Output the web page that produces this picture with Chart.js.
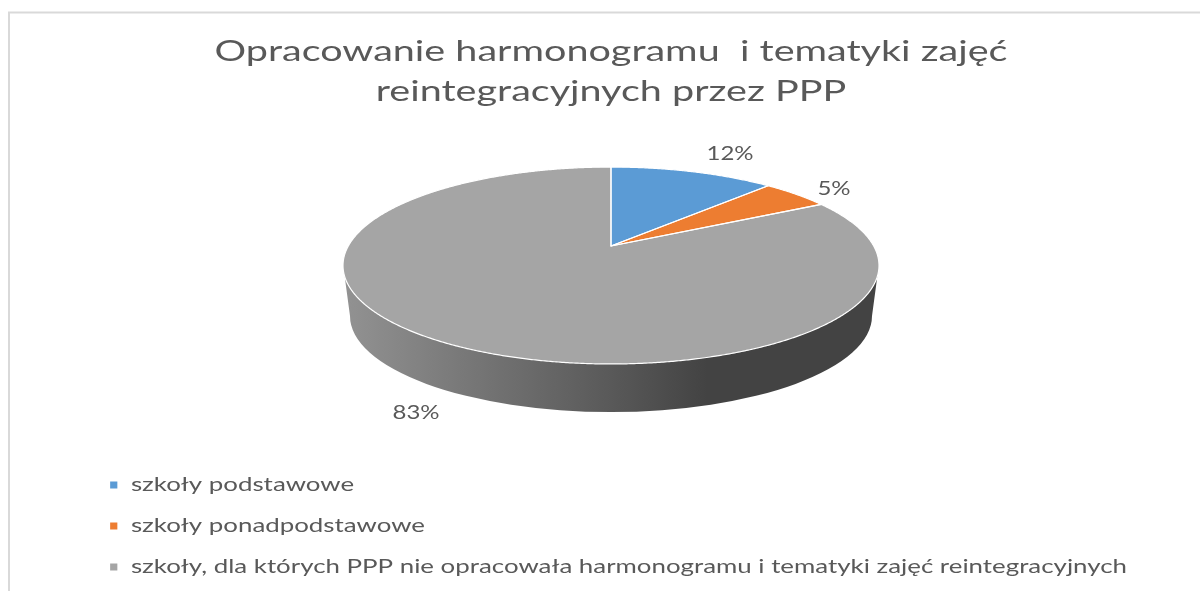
<!DOCTYPE html>
<html lang="pl">
<head>
<meta charset="utf-8">
<title>Opracowanie harmonogramu i tematyki zajęć</title>
<script src="https://cdn.jsdelivr.net/npm/chart.js@4"></script>
<style>
html,body{margin:0;padding:0;background:#fff;overflow:hidden}
canvas{display:block;filter:blur(0.45px)}
</style>
</head>
<body>
<canvas id="c" width="1200" height="591"></canvas>
<script>
const titleLines = ['Opracowanie harmonogramu  i tematyki zajęć', 'reintegracyjnych przez PPP'];
const categories = ['szkoły podstawowe', 'szkoły ponadpodstawowe', 'szkoły, dla których PPP nie opracowała harmonogramu i tematyki zajęć reintegracyjnych'];
const values = [12, 5, 83];
const sliceColors = ['#5b9bd5', '#ed7d31', '#a5a5a5'];
const TEXT = '#595959';
const FONT = 'Lato';

// perspective of the pie's top face (unit circle -> ellipse seen in perspective)
const P = {cx: 611, ay: 246, a: 262.7, b: 94.6, k: -0.198};
function project(t){
  const u = Math.cos(t), v = Math.sin(t), d = 1 + P.k * v;
  return [P.cx + P.a * u / d, P.ay + P.b * v / d];
}
function tracePie(ctx, start, end, withApex){
  ctx.beginPath();
  if (withApex) ctx.moveTo(P.cx, P.ay);
  const n = Math.max(2, Math.ceil((end - start) / 0.006));
  for (let i = 0; i <= n; i++){
    const p = project(start + (end - start) * i / n);
    ctx.lineTo(p[0], p[1]);
  }
  ctx.closePath();
}
function drawSide(ctx){
  const low = {cy: 316, rx: 261, ry: 96};
  const g = ctx.createLinearGradient(345, 0, 877, 0);
  g.addColorStop(0, '#929292');
  g.addColorStop(0.25, '#757575');
  g.addColorStop(0.5, '#595959');
  g.addColorStop(0.68, '#434343');
  g.addColorStop(1, '#434343');
  ctx.fillStyle = g;
  ctx.beginPath();
  ctx.moveTo(879, 264);
  ctx.lineTo(P.cx + low.rx, low.cy);
  ctx.ellipse(P.cx, low.cy, low.rx, low.ry, 0, 0, Math.PI);
  ctx.lineTo(343, 264);
  ctx.closePath();
  ctx.fill();
}
function stretched(box, ctx, setup){
  const draw = box.draw.bind(box);
  box.draw = function(area){
    ctx.save();
    setup();
    draw(area);
    ctx.restore();
  };
}

const pie3d = {
  id: 'pie3d',
  afterLayout(chart){
    if (chart.$wrapped) return;
    chart.$wrapped = true;
    const ctx = chart.ctx;
    stretched(chart.titleBlock, ctx, () => {
      ctx.font = '29px ' + FONT;
      const sx = 793 / ctx.measureText(titleLines[0]).width;
      ctx.translate(611, 0); ctx.scale(sx, 1); ctx.translate(-600, 0);
    });
    const lg = chart.legend;
    stretched(lg, ctx, () => {
      ctx.font = '20px ' + FONT;
      const sx = 996 / ctx.measureText(categories[2]).width;
      ctx.scale(sx, 1);
      lg.options.labels.boxWidth = 8.5 / sx;
      lg.left = 109.5 / sx - 21;
      lg.right = 1200 / sx;
      lg.top = 454;
      lg.bottom = 700;
    });
  },
  beforeDraw(chart){
    const ctx = chart.ctx;
    ctx.save();
    ctx.fillStyle = '#fff';
    ctx.fillRect(0, 0, chart.width, chart.height);
    ctx.strokeStyle = '#d9d9d9';
    ctx.lineWidth = 2;
    ctx.beginPath();
    ctx.moveTo(9, 591); ctx.lineTo(9, 12.5); ctx.lineTo(1200, 12.5);
    ctx.stroke();
    ctx.restore();
  },
  beforeDatasetDraw(chart, args){
    const ctx = chart.ctx;
    ctx.save();
    drawSide(ctx);
    args.meta.data.forEach((arc, i) => {
      tracePie(ctx, arc.startAngle, arc.endAngle, true);
      ctx.fillStyle = sliceColors[i];
      ctx.fill();
    });
    ctx.strokeStyle = '#fff';
    ctx.lineWidth = 1.2;
    ctx.lineJoin = 'round';
    args.meta.data.forEach(arc => {
      tracePie(ctx, arc.startAngle, arc.endAngle, true);
      ctx.stroke();
    });
    ctx.restore();
    return false;
  },
  afterDraw(chart){
    const ctx = chart.ctx;
    const total = values.reduce((a, b) => a + b, 0);
    const spots = [[730, 154], [834, 189], [416, 413]];
    ctx.save();
    ctx.font = '20px ' + FONT;
    ctx.fillStyle = TEXT;
    ctx.textAlign = 'center';
    ctx.textBaseline = 'middle';
    values.forEach((v, i) => {
      const s = spots[i];
      ctx.save();
      ctx.translate(s[0], s[1]);
      ctx.scale(1.2, 1);
      ctx.fillText(Math.round(v / total * 100) + '%', 0, 0);
      ctx.restore();
    });
    ctx.restore();
  }
};

new Chart(document.getElementById('c'), {
  type: 'pie',
  data: {
    labels: categories,
    datasets: [{data: values, backgroundColor: sliceColors, borderColor: '#fff', borderWidth: 1}]
  },
  options: {
    responsive: false,
    animation: false,
    plugins: {
      tooltip: {enabled: false},
      title: {
        display: true,
        text: titleLines,
        color: TEXT,
        align: 'center',
        font: {family: FONT, size: 29, weight: 'normal', lineHeight: 40 / 29},
        padding: {top: 32, bottom: 10}
      },
      legend: {
        display: true,
        position: 'left',
        align: 'start',
        labels: {
          color: TEXT,
          boxWidth: 9,
          boxHeight: 8,
          padding: 21,
          font: {family: FONT, size: 20}
        }
      }
    }
  },
  plugins: [pie3d]
});
</script>
</body>
</html>
